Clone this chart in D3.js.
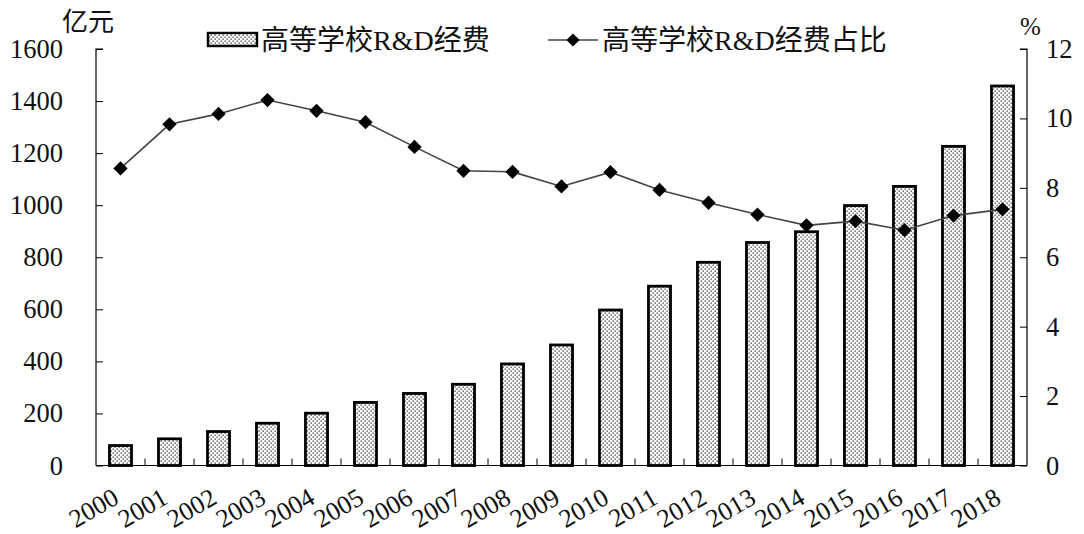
<!DOCTYPE html>
<html>
<head>
	<meta charset="utf-8">
	<title>高等学校R&D经费</title>
	<script src="https://d3js.org/d3.v7.min.js" charset="utf-8"></script>
	<style>
		body { margin: 0; background: #fff; }
		svg text { font-family: "Liberation Serif", "Times New Roman", Tinos, "DejaVu Serif", "Noto Sans CJK SC", serif; fill: #111; }
	</style>
</head>
<body>
	<svg width="1084" height="534"></svg>
	<script>
		// data
		const years = ["2000","2001","2002","2003","2004","2005","2006","2007","2008","2009",
			"2010","2011","2012","2013","2014","2015","2016","2017","2018"];
		const funds = [76.7, 102.4, 130.5, 162.3, 200.9, 242.3, 276.8, 312.0, 390.2, 463.0,
			597.3, 688.9, 780.6, 856.7, 898.1, 998.6, 1072.2, 1226.0, 1457.9];
		const share = [8.56, 9.83, 10.13, 10.53, 10.22, 9.89, 9.18, 8.49, 8.46, 8.04,
			8.45, 7.94, 7.57, 7.23, 6.92, 7.04, 6.78, 7.20, 7.38];
		const leftTicks = [0, 200, 400, 600, 800, 1000, 1200, 1400, 1600];
		const rightTicks = [0, 2, 4, 6, 8, 10, 12];

		const mLeft = 96, mRight = 1027, mTop = 49, mBottom = 465.5;

		const svg = d3.select('svg');

		// dotted fill for the bars
		const pat = svg.append('defs').append('pattern')
			.attr('id', 'dots')
			.attr('patternUnits', 'userSpaceOnUse')
			.attr('width', 4).attr('height', 4);
		pat.append('rect').attr('width', 4).attr('height', 4).attr('fill', '#fff');
		pat.append('rect').attr('x', 0.5).attr('y', 0.5).attr('width', 1.3).attr('height', 1.3).attr('fill', '#333');
		pat.append('rect').attr('x', 2.5).attr('y', 2.5).attr('width', 1.3).attr('height', 1.3).attr('fill', '#333');

		const x = d3.scaleBand().domain(years).range([mLeft, mRight]).paddingInner(0.55).paddingOuter(0.275);
		const xb = d3.scaleBand().domain(years).range([mLeft, mRight]);
		const y = d3.scaleLinear().domain([0, 1600]).range([mBottom, mTop]);
		const y2 = d3.scaleLinear().domain([0, 12]).range([mBottom, mTop]);

		// bars
		svg.append('g').selectAll('rect')
			.data(funds)
			.enter()
			.append('rect')
			.attr('x', (d, i) => x(years[i]))
			.attr('y', d => y(d))
			.attr('width', x.bandwidth())
			.attr('height', d => mBottom - y(d))
			.attr('fill', 'url(#dots)')
			.attr('stroke', '#000')
			.attr('stroke-width', 2.8);

		// left axis
		const ax = svg.append('g')
			.attr('transform', `translate(${mLeft},0)`)
			.call(d3.axisRight(y).tickValues(leftTicks).tickSize(7).tickFormat(d3.format('d')));
		ax.selectAll('text').remove();
		ax.select('.domain').attr('d', `M7,${mTop}H0V${mBottom}`);
		svg.append('g').selectAll('text')
			.data(leftTicks)
			.enter()
			.append('text')
			.attr('x', 63)
			.attr('y', d => y(d) + 9)
			.attr('text-anchor', 'end')
			.style('font-size', '26.5px')
			.text(d => d);

		// right axis
		const ax2 = svg.append('g')
			.attr('transform', `translate(${mRight},0)`)
			.call(d3.axisLeft(y2).tickValues(rightTicks).tickSize(7));
		ax2.selectAll('text').remove();
		ax2.select('.domain').attr('d', `M-7,${mTop}H0V${mBottom}`);
		svg.append('g').selectAll('text')
			.data(rightTicks)
			.enter()
			.append('text')
			.attr('x', 1046)
			.attr('y', d => y2(d) + 9)
			.attr('text-anchor', 'start')
			.style('font-size', '26.5px')
			.text(d => d);

		// bottom axis, ticks between the bars pointing up
		const ax3 = svg.append('g')
			.attr('transform', `translate(0,${mBottom})`)
			.call(d3.axisTop(xb).tickSize(0).tickFormat(''));
		ax3.select('.domain').attr('d', `M${mLeft},0H${mRight}`);
		ax3.selectAll('.tick').remove();
		svg.append('g').selectAll('line')
			.data(years.slice(1))
			.enter()
			.append('line')
			.attr('x1', d => xb(d)).attr('x2', d => xb(d))
			.attr('y1', mBottom).attr('y2', mBottom - 7)
			.attr('stroke', '#000');
		svg.selectAll('.domain').attr('stroke', '#000').attr('stroke-width', 1.2);
		svg.selectAll('.tick line').attr('stroke', '#000');

		svg.append('g').selectAll('text')
			.data(years)
			.enter()
			.append('text')
			.attr('transform', d => `translate(${xb(d) + xb.bandwidth() / 2},${mBottom + 37}) rotate(-30)`)
			.attr('text-anchor', 'end')
			.style('font-size', '26px')
			.text(d => d);

		// share line
		const line = d3.line()
			.x((d, i) => xb(years[i]) + xb.bandwidth() / 2)
			.y(d => y2(d));
		svg.append('path')
			.datum(share)
			.attr('d', line)
			.attr('fill', 'none')
			.attr('stroke', '#444')
			.attr('stroke-width', 1.6);
		svg.append('g').selectAll('path')
			.data(share)
			.enter()
			.append('path')
			.attr('d', d3.symbol().type(d3.symbolDiamond2).size(130))
			.attr('transform', (d, i) => `translate(${xb(years[i]) + xb.bandwidth() / 2},${y2(d)})`)
			.attr('fill', '#000');

		// units
		svg.append('text').attr('x', 62).attr('y', 31).style('font-size', '26px').text('亿元');
		svg.append('text').attr('x', 1020).attr('y', 35).style('font-size', '25px').text('%');

		// legend
		svg.append('rect')
			.attr('x', 208).attr('y', 33).attr('width', 49).attr('height', 13)
			.attr('fill', 'url(#dots)').attr('stroke', '#000').attr('stroke-width', 2.4);
		svg.append('text').attr('x', 261).attr('y', 50).style('font-size', '28px').text('高等学校R&D经费');
		svg.append('line')
			.attr('x1', 548).attr('x2', 598).attr('y1', 40).attr('y2', 40)
			.attr('stroke', '#444').attr('stroke-width', 1.6);
		svg.append('path')
			.attr('d', d3.symbol().type(d3.symbolDiamond2).size(110))
			.attr('transform', 'translate(573,40)')
			.attr('fill', '#000');
		svg.append('text').attr('x', 602).attr('y', 50).style('font-size', '28px').text('高等学校R&D经费占比');
	</script>
</body>
</html>
